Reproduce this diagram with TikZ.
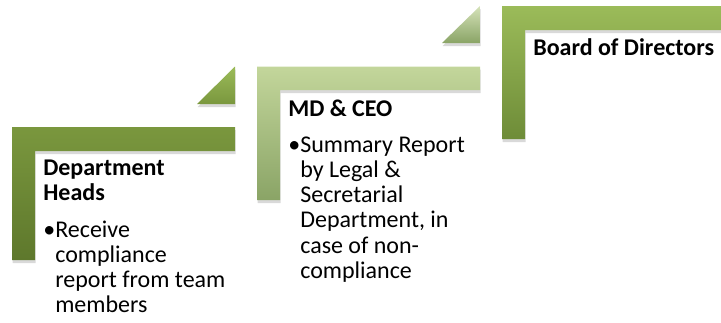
\documentclass[tikz,border=0pt]{standalone}
\usepackage{fontspec}
\setmainfont{Carlito}
\usepackage{tikz}
\usetikzlibrary{positioning,shadows}

\definecolor{oliveTop}{HTML}{7A973E}
\definecolor{oliveBot}{HTML}{5E782C}
\definecolor{paleTop}{HTML}{C3D69B}
\definecolor{paleBot}{HTML}{8AA466}
\definecolor{leafTop}{HTML}{9BBB59}
\definecolor{leafBot}{HTML}{6E8C38}

\newcommand{\itemlines}[1]{\makebox[12pt][l]{\textbullet}\parbox[t]{190pt}{\raggedright #1}}

\begin{document}
\begin{tikzpicture}[x=1pt, y=-1pt, node distance=19pt, semithick]
\tikzstyle{every node}=[inner sep=0pt, text=black, font=\fontsize{24}{25.2}\selectfont]
\tikzstyle{stepbar}=[drop shadow={opacity=0.3, shadow xshift=0.5pt, shadow yshift=-3pt}]
\tikzstyle{heading}=[align=left, anchor=north west, font=\fontsize{24}{25}\selectfont\bfseries]
\tikzstyle{bullets}=[anchor=north west]

\useasboundingbox (0,0) rectangle (721,322);

% the three steps
\path[stepbar, top color=oliveTop, bottom color=oliveBot]
	(12,127) -| (235,151) -| (35,260) -| cycle;
\path[stepbar, top color=paleTop, bottom color=paleBot]
	(257,66.5) -| (480,90) -| (280,200) -| cycle;
\path[stepbar, top color=leafTop, bottom color=leafBot]
	(502,6) -| (740,30) -| (525,139) -| cycle;

% arrows between the steps
\path[stepbar, top color=leafTop, bottom color=oliveTop]
	(197,104) -- (235,66.5) -- (235,104) -- cycle;
\path[stepbar, top color=paleTop!70!white, bottom color=paleBot]
	(442,43) -- (480,6) -- (480,43) -- cycle;

% texts
\node[heading]	(dh)	at (43,160)	{Department\\Heads};
\node[bullets]	(dhtext)	[below=19pt of dh.south west, anchor=north west]
	{\itemlines{Receive\\compliance\\report from team\\members}};

\node[heading]	(md)	at (288,100)	{MD \& CEO};
\node[bullets]	(mdtext)	[below=19pt of md.south west, anchor=north west]
	{\itemlines{Summary Report\\by Legal \&\\Secretarial\\Department, in\\case of non-\\compliance}};

\node[heading]	(bod)	at (533,38)	{Board of Directors};

\end{tikzpicture}
\end{document}
